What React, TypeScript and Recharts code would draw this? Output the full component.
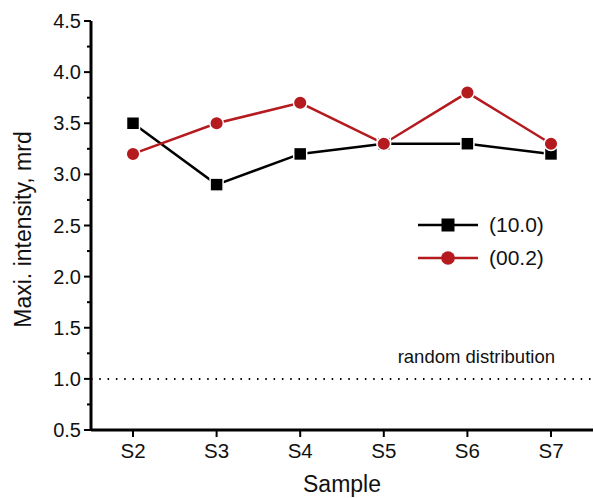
import React from 'react';
import { LineChart, Line, XAxis, YAxis, ReferenceLine, Legend } from 'recharts';

const samples = ['S2', 'S3', 'S4', 'S5', 'S6', 'S7'];
const series100 = [3.5, 2.9, 3.2, 3.3, 3.3, 3.2];
const series002 = [3.2, 3.5, 3.7, 3.3, 3.8, 3.3];
const yTicks = [0.5, 0.75, 1, 1.25, 1.5, 1.75, 2, 2.25, 2.5, 2.75, 3, 3.25, 3.5, 3.75, 4, 4.25, 4.5];
const majorTicks = [0.5, 1, 1.5, 2, 2.5, 3, 3.5, 4, 4.5];

const RED = '#b51a1f';
const FONT = '"Liberation Sans", Arial, sans-serif';

const data = samples.map((s, i) => ({ sample: s, a: series100[i], b: series002[i] }));

const SquareDot = (props: any) => {
  const { cx, cy } = props;
  if (cx == null || cy == null) return null;
  return <rect x={cx - 6.5} y={cy - 6.5} width={13} height={13} fill="#000" stroke="#fff" strokeWidth={1.5} />;
};

const CircleDot = (props: any) => {
  const { cx, cy } = props;
  if (cx == null || cy == null) return null;
  return <circle cx={cx} cy={cy} r={6.8} fill={RED} stroke="#fff" strokeWidth={1.5} />;
};

const YTick = (props: any) => {
  const { x, y, payload } = props;
  const major = majorTicks.includes(payload.value);
  return (
    <g>
      <line x1={x - (major ? 7 : 4)} y1={y} x2={x} y2={y} stroke="#000" strokeWidth={2} />
      {major && (
        <text x={x - 10} y={y} textAnchor="end" dominantBaseline="central" fontSize={20} fontFamily={FONT} fill="#111">
          {payload.value.toFixed(1)}
        </text>
      )}
    </g>
  );
};

const XTick = (props: any) => {
  const { x, y, payload } = props;
  return (
    <g>
      <line x1={x} y1={y} x2={x} y2={y + 7} stroke="#000" strokeWidth={2} />
      <text x={x} y={y + 20} textAnchor="middle" dominantBaseline="central" fontSize={20.5} fontFamily={FONT} fill="#111">
        {payload.value}
      </text>
    </g>
  );
};

const RefLabel = (props: any) => {
  const { viewBox } = props;
  if (!viewBox) return null;
  return (
    <text x={viewBox.x + viewBox.width - 38} y={viewBox.y - 22} textAnchor="end" dominantBaseline="central" fontSize={18.5} fontFamily={FONT} fill="#111">
      random distribution
    </text>
  );
};

const YLabel = (props: any) => {
  const { viewBox } = props;
  if (!viewBox) return null;
  const cx = viewBox.x + 23;
  const cy = viewBox.y + viewBox.height / 2 + 4;
  return (
    <text x={cx} y={cy} transform={`rotate(-90 ${cx} ${cy})`} textAnchor="middle" dominantBaseline="central" fontSize={23} fontFamily={FONT} fill="#111">
      Maxi. intensity, mrd
    </text>
  );
};

const LegendBox = () => {
  const rows = [
    { label: '(10.0)', color: '#000', square: true },
    { label: '(00.2)', color: RED, square: false },
  ];
  return (
    <div style={{ fontFamily: FONT, fontSize: 21, color: '#111' }}>
      {rows.map((r) => (
        <div key={r.label} style={{ display: 'flex', alignItems: 'center', height: 33 }}>
          <svg width={62} height={20}>
            <line x1={0} y1={10} x2={60} y2={10} stroke={r.color} strokeWidth={2.5} />
            {r.square ? (
              <rect x={23.5} y={3.5} width={13} height={13} fill={r.color} />
            ) : (
              <circle cx={30} cy={10} r={6.8} fill={r.color} />
            )}
          </svg>
          <span style={{ marginLeft: 9 }}>{r.label}</span>
        </div>
      ))}
    </div>
  );
};

export default function App() {
  return (
    <div style={{ position: 'absolute', left: 0, top: 0, background: '#fff' }}>
      <LineChart width={594} height={498} data={data} margin={{ top: 21, right: 1, bottom: 0, left: 0 }}>
        <XAxis
          dataKey="sample"
          height={68}
          padding={{ left: 42, right: 42 }}
          axisLine={{ stroke: '#000', strokeWidth: 3 }}
          tickLine={false}
          tickSize={0}
          tickMargin={0}
          tick={<XTick />}
          interval={0}
          label={{ value: 'Sample', position: 'insideBottom', offset: 6, fontSize: 23, fontFamily: FONT, fill: '#111' }}
        />
        <XAxis xAxisId="top" orientation="top" dataKey="sample" height={0} axisLine={{ stroke: '#000', strokeWidth: 3 }} tick={false} tickLine={false} />
        <YAxis
          domain={[0.5, 4.5]}
          ticks={yTicks}
          width={91}
          axisLine={{ stroke: '#000', strokeWidth: 3 }}
          tickLine={false}
          tickSize={0}
          tickMargin={0}
          tick={<YTick />}
          interval={0}
          label={<YLabel />}
        />
        <YAxis yAxisId="right" orientation="right" width={0} axisLine={{ stroke: '#888', strokeWidth: 1 }} tick={false} tickLine={false} />
        <ReferenceLine y={1} stroke="#000" strokeWidth={2} strokeDasharray="1.5 6.8" label={<RefLabel />} />
        <Line dataKey="a" stroke="#000" strokeWidth={2.5} dot={<SquareDot />} isAnimationActive={false} legendType="square" />
        <Line dataKey="b" stroke={RED} strokeWidth={2.5} dot={<CircleDot />} isAnimationActive={false} legendType="circle" />
        <Legend
          layout="vertical"
          align="center"
          verticalAlign="middle"
          content={<LegendBox />}
          wrapperStyle={{ position: 'absolute', left: 418, top: 208, width: 160 }}
        />
      </LineChart>
    </div>
  );
}
